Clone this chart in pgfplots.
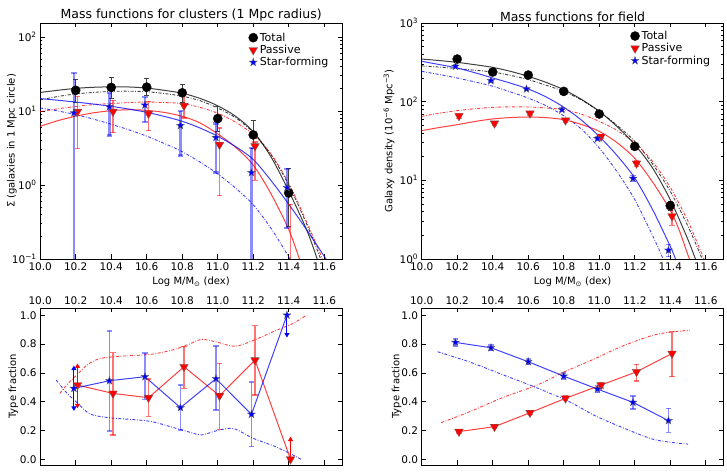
\documentclass[border=0pt]{standalone}
\usepackage{fontspec}
\setmainfont{DejaVu Sans}
\usepackage{pgfplots}
\usepackage{pgfplotstable}
\pgfplotsset{compat=1.18}
\usetikzlibrary{arrows.meta}

% filled five-pointed star
\pgfdeclareplotmark{fstar}{%
  \pgfpathmoveto{\pgfpointpolar{90}{\pgfplotmarksize}}%
  \pgfpathlineto{\pgfpointpolar{126}{0.4\pgfplotmarksize}}%
  \pgfpathlineto{\pgfpointpolar{162}{\pgfplotmarksize}}%
  \pgfpathlineto{\pgfpointpolar{198}{0.4\pgfplotmarksize}}%
  \pgfpathlineto{\pgfpointpolar{234}{\pgfplotmarksize}}%
  \pgfpathlineto{\pgfpointpolar{270}{0.4\pgfplotmarksize}}%
  \pgfpathlineto{\pgfpointpolar{306}{\pgfplotmarksize}}%
  \pgfpathlineto{\pgfpointpolar{342}{0.4\pgfplotmarksize}}%
  \pgfpathlineto{\pgfpointpolar{18}{\pgfplotmarksize}}%
  \pgfpathlineto{\pgfpointpolar{54}{0.4\pgfplotmarksize}}%
  \pgfpathclose
  \pgfusepathqfillstroke}

% ---------- clusters: measured points ----------
\pgfplotstableread{
x y ep em
10.20 19.0 8.0 6.0
10.40 20.8 8.0 6.0
10.60 21.0 6.3 5.0
10.80 17.6 5.6 4.5
11.00 7.9 3.7 2.6
11.20 4.75 2.7 1.6
11.40 0.78 0.91 0.50
}\clTot
\pgfplotstableread{
x y ep em
10.21 9.8 6.0 6.7
10.41 9.8 4.1 4.7
10.61 9.2 4.3 3.8
10.81 11.8 5.1 3.75
11.01 3.5 2.4 2.78
11.21 3.35 0.45 2.2
11.41 0.011 0.539 0.001
}\clPas
\pgfplotstableread{
x y ep em
10.19 9.4 23.0 9.39
10.39 11.4 6.1 6.75
10.59 12.0 3.3 4.9
10.79 6.35 3.75 3.85
10.99 4.38 2.42 2.91
11.19 1.47 1.71 1.46
11.39 0.92 0.71 0.66
}\clSF
% ---------- clusters: fitted curves ----------
\pgfplotstableread{
x y
10.00 17.8
10.10 19.05
10.20 20.2
10.30 20.9
10.40 21.2
10.50 21.1
10.60 20.4
10.70 19.0
10.80 17.4
10.90 14.8
11.00 11.75
11.10 8.5
11.20 5.25
11.30 2.4
11.40 0.83
11.50 0.25
11.56 0.1
11.60 0.047
}\clTotFit
\pgfplotstableread{
x y
10.00 14.1
10.10 15.7
10.20 17.0
10.30 17.8
10.40 18.4
10.50 18.5
10.60 18.2
10.70 17.2
10.80 15.85
10.90 13.8
11.00 10.96
11.10 8.13
11.20 5.13
11.30 2.57
11.40 1.0
11.50 0.30
11.58 0.1
11.62 0.052
}\clTotRef
\pgfplotstableread{
x y
10.00 6.22
10.10 7.41
10.20 8.51
10.30 9.44
10.40 10.1
10.50 10.4
10.60 10.2
10.70 9.55
10.80 8.47
10.90 6.9
11.00 4.9
11.10 3.24
11.20 1.86
11.30 0.76
11.40 0.25
11.46 0.1
11.50 0.05
}\clPasFit
\pgfplotstableread{
x y
10.00 9.77
10.10 10.7
10.20 11.5
10.30 12.2
10.40 12.6
10.50 13.0
10.60 13.2
10.70 13.0
10.80 12.6
10.90 11.2
11.00 9.33
11.10 7.08
11.20 4.79
11.30 2.63
11.40 1.05
11.50 0.32
11.59 0.1
11.62 0.063
}\clPasRef
\pgfplotstableread{
x y
10.00 14.7
10.10 13.96
10.20 13.2
10.30 12.4
10.40 11.56
10.50 10.6
10.60 9.6
10.70 8.43
10.80 7.26
10.90 5.89
11.00 4.56
11.10 3.31
11.20 2.21
11.30 1.15
11.40 0.55
11.50 0.25
11.61 0.1
11.65 0.072
}\clSFFit
\pgfplotstableread{
x y
10.00 10.96
10.10 10.0
10.20 8.91
10.30 7.76
10.40 6.61
10.50 5.56
10.60 4.57
10.70 3.63
10.80 2.82
10.90 2.04
11.00 1.41
11.10 0.91
11.20 0.54
11.30 0.26
11.40 0.107
11.43 0.079
}\clSFRef

% ---------- field: measured points ----------
\pgfplotstableread{
x y ep em
10.20 348 12 12
10.40 238 9 9
10.60 218 8 8
10.80 135 5 5
11.00 69.7 3 3
11.20 27.0 1.5 1.5
11.40 4.76 0.7 0.6
}\fdTot
\pgfplotstableread{
x y ep em
10.21 65.8 4 4
10.41 53.0 3.5 3.5
10.61 71.0 4 4
10.81 58.0 3 3
11.01 36.0 2 2
11.21 16.4 1.3 1.3
11.41 3.5 0.9 0.8
}\fdPas
\pgfplotstableread{
x y ep em
10.19 281 10 10
10.39 185 8 8
10.59 145 6 6
10.79 79 4 4
10.99 34 2 2
11.19 10.6 0.9 0.9
11.39 1.29 0.25 0.22
}\fdSF
% ---------- field: fitted curves ----------
\pgfplotstableread{
x y
10.00 348
10.10 333
10.20 316
10.30 295
10.40 273
10.50 243
10.60 210
10.70 176
10.80 142
10.90 107
11.00 75.3
11.10 48.4
11.20 28.4
11.30 14.4
11.40 5.68
11.50 1.76
11.55 0.89
}\fdTotFit
\pgfplotstableread{
x y
10.00 285
10.10 275
10.20 263
10.30 251
10.40 238
10.50 216
10.60 191
10.70 162
10.80 135
10.90 105
11.00 75.3
11.10 50.1
11.20 31.3
11.30 16.2
11.40 7.24
11.50 2.6
11.58 1.0
11.60 0.72
}\fdTotRef
\pgfplotstableread{
x y
10.00 42.8
10.10 47.0
10.20 51.0
10.30 56.0
10.40 60.3
10.50 62.8
10.60 63.8
10.70 62.7
10.80 59.0
10.90 51.3
11.00 42.0
11.10 30.2
11.20 19.05
11.30 9.55
11.40 4.17
11.45 2.34
11.50 1.12
11.53 0.75
}\fdPasFit
\pgfplotstableread{
x y
10.00 65.2
10.10 71.3
10.20 76.9
10.30 81.3
10.40 84.7
10.50 85.9
10.60 85.5
10.70 83.2
10.80 79.1
10.90 69.2
11.00 56.2
11.10 43.2
11.20 29.9
11.30 17.4
11.40 8.13
11.50 3.02
11.59 1.0
11.62 0.71
}\fdPasRef
\pgfplotstableread{
x y
10.00 326
10.10 296
10.20 268
10.30 233
10.40 200
10.50 172
10.60 145
10.70 115
10.80 85.1
10.90 58.2
11.00 36.2
11.10 20.7
11.20 10.7
11.30 4.27
11.40 1.45
11.43 1.0
11.45 0.76
}\fdSFFit
\pgfplotstableread{
x y
10.00 243
10.10 221
10.20 200
10.30 178
10.40 157
10.50 133
10.60 111
10.70 89
10.80 66
10.90 44.7
11.00 25.8
11.10 12.9
11.20 5.68
11.30 2.0
11.36 1.0
11.38 0.76
}\fdSFRef

% ---------- type fractions ----------
\pgfplotstableread{
x y
10.19 0.492
10.39 0.545
10.59 0.573
10.79 0.358
10.99 0.559
11.19 0.312
11.39 1.000
}\clFracSF
\pgfplotstableread{
x y ep em
10.39 0.545 0.346 0.349
10.59 0.573 0.166 0.157
10.79 0.358 0.157 0.155
10.99 0.559 0.226 0.217
11.19 0.312 0.226 0.224
}\clFracSFerr
\pgfplotstableread{
x y
10.21 0.515
10.41 0.457
10.61 0.427
10.81 0.642
11.01 0.441
11.21 0.688
11.41 0.000
}\clFracPas
\pgfplotstableread{
x y ep em
10.41 0.457 0.284 0.288
10.61 0.427 0.13 0.13
10.81 0.642 0.143 0.150
11.01 0.441 0.224 0.233
11.21 0.688 0.240 0.242
}\clFracPaserr
\pgfplotstableread{
x y
10.11 0.457
10.16 0.53
10.21 0.59
10.27 0.66
10.34 0.70
10.45 0.715
10.62 0.728
10.75 0.76
10.84 0.80
10.91 0.832
10.99 0.815
11.10 0.785
11.22 0.835
11.32 0.89
11.42 0.94
11.50 1.0
}\clFracPasRef
\pgfplotstableread{
x y
10.09 0.55
10.15 0.46
10.21 0.39
10.28 0.315
10.39 0.288
10.61 0.265
10.75 0.22
10.85 0.185
10.91 0.169
11.00 0.20
11.09 0.212
11.20 0.145
11.33 0.085
11.47 0.0
}\clFracSFRef
\pgfplotstableread{
x y ep em
10.19 0.811 0.025 0.025
10.39 0.774 0.02 0.02
10.60 0.677 0.02 0.02
10.80 0.577 0.02 0.02
10.99 0.487 0.025 0.025
11.19 0.395 0.045 0.045
11.39 0.268 0.085 0.081
}\fdFracSF
\pgfplotstableread{
x y ep em
10.21 0.192 0.01 0.01
10.41 0.226 0.012 0.012
10.61 0.323 0.012 0.012
10.81 0.423 0.015 0.015
11.01 0.515 0.02 0.02
11.21 0.607 0.053 0.064
11.41 0.734 0.151 0.161
}\fdFracPas
\pgfplotstableread{
x y
10.11 0.254
10.27 0.33
10.46 0.43
10.65 0.515
10.80 0.605
10.97 0.695
11.12 0.78
11.30 0.86
11.42 0.885
11.51 0.895
}\fdFracPasRef
\pgfplotstableread{
x y
10.09 0.746
10.27 0.675
10.46 0.585
10.65 0.495
10.83 0.40
10.98 0.30
11.15 0.21
11.30 0.14
11.42 0.115
11.50 0.105
}\fdFracSFRef

\pgfplotsset{
  panel/.style={
    scale only axis, width=301.8pt,
    xmin=10, xmax=11.7,
    xtick={10,10.2,10.4,10.6,10.8,11,11.2,11.4,11.6},
    xticklabel style={/pgf/number format/.cd, fixed, fixed zerofill, precision=1},
    /pgf/number format/assume math mode=true,
    tick align=inside,
    major tick length=4.5pt, minor tick length=2.2pt,
    tick style={black, line width=0.6pt},
    axis line style={black, line width=0.8pt},
    tick label style={font=\fontsize{10.5}{12}\selectfont},
    label style={font=\fontsize{10}{12}\selectfont},
    title style={font=\fontsize{12.5}{14}\selectfont, yshift=-8pt},
    legend style={draw=none, fill=none, font=\fontsize{11}{12}\selectfont,
      row sep=-1.5pt, inner sep=0pt, cells={anchor=west}},
    legend image code/.code={\draw[#1] plot coordinates {(0pt,0pt)};},
  },
  fracpanel/.style={panel, height=157pt, ymin=-0.04, ymax=1.05,
    xticklabel pos=upper,
    ytick={0,0.2,0.4,0.6,0.8,1.0},
    yticklabel style={/pgf/number format/.cd, fixed, fixed zerofill, precision=1},
    ylabel={Type fraction}},
  ylabelat/.style={ylabel style={at={(rel axis cs:#1,0.5)}, anchor=center}},
  fit/.style={smooth, line width=1pt, opacity=0.75},
  ref/.style={smooth, line width=0.9pt, opacity=0.75,
    dash pattern=on 3pt off 1.6pt on 0.8pt off 1.6pt},
  totmark/.style={only marks, mark=*, mark size=4.6pt,
    mark options={fill=black, draw=black, line width=0.3pt}},
  pasmark/.style={only marks, mark=triangle*, mark size=5pt,
    mark options={rotate=180, fill=red, draw=black!60, line width=0.3pt}},
  sfmark/.style={only marks, mark=fstar, mark size=4.2pt,
    mark options={fill=blue, draw=black!60, line width=0.3pt}},
  ebar/.style={error bars/.cd, y dir=both, y explicit,
    error bar style={#1},
    error mark options={rotate=90, mark size=2.6pt, #1}},
}

\begin{document}
\begin{tikzpicture}
\path[use as bounding box] (0,0) rectangle (727pt,473pt);

% ================= clusters =================
\begin{axis}[panel, at={(40.2pt,214pt)}, anchor=south west, height=236pt,
  ymode=log, ymin=0.1, ymax=154.5,
  ytick={0.1,1,10,100},
  yticklabels={10\textsuperscript{−1},10\textsuperscript{0},10\textsuperscript{1},10\textsuperscript{2}},
  title={Mass functions for clusters (1 Mpc radius)},
  xlabel={Log M/M\textsubscript{⊙} (dex)},
  ylabel={Σ (galaxies in 1 Mpc circle)}, ylabelat=-0.094,
  legend style={at={(rel axis cs:0.69,0.968)}, anchor=north west}]
\addplot[ref, black, forget plot] table {\clTotRef};
\addplot[ref, red, forget plot] table {\clPasRef};
\addplot[ref, blue, forget plot] table {\clSFRef};
\addplot[fit, black, forget plot] table {\clTotFit};
\addplot[fit, red, forget plot] table {\clPasFit};
\addplot[fit, blue, forget plot] table {\clSFFit};
\addplot[totmark, forget plot, ebar={black!75, line width=0.8pt}]
  table[x=x, y=y, y error plus=ep, y error minus=em] {\clTot};
\addplot[pasmark, forget plot, ebar={red, opacity=0.55, line width=1.4pt}]
  table[x=x, y=y, y error plus=ep, y error minus=em] {\clPas};
\addplot[sfmark, forget plot, ebar={blue, opacity=0.45, line width=2.3pt}]
  table[x=x, y=y, y error plus=ep, y error minus=em] {\clSF};
\addlegendimage{totmark}
\addlegendentry{Total}
\addlegendimage{pasmark}
\addlegendentry{Passive}
\addlegendimage{sfmark}
\addlegendentry{Star-forming}
\end{axis}

% ================= field =================
\begin{axis}[panel, at={(421.7pt,214pt)}, anchor=south west, height=236pt,
  ymode=log, ymin=1, ymax=1000,
  ytick={1,10,100,1000},
  yticklabels={10\textsuperscript{0},10\textsuperscript{1},10\textsuperscript{2},10\textsuperscript{3}},
  title={Mass functions for field},
  xlabel={Log M/M\textsubscript{⊙} (dex)},
  ylabel={Galaxy density (10\textsuperscript{−6} Mpc\textsuperscript{−3})}, ylabelat=-0.108,
  legend style={at={(rel axis cs:0.691,0.975)}, anchor=north west}]
\addplot[ref, black, forget plot] table {\fdTotRef};
\addplot[ref, red, forget plot] table {\fdPasRef};
\addplot[ref, blue, forget plot] table {\fdSFRef};
\addplot[fit, black, forget plot] table {\fdTotFit};
\addplot[fit, red, forget plot] table {\fdPasFit};
\addplot[fit, blue, forget plot] table {\fdSFFit};
\addplot[totmark, forget plot, ebar={black!75, line width=0.8pt}]
  table[x=x, y=y, y error plus=ep, y error minus=em] {\fdTot};
\addplot[pasmark, forget plot, ebar={red, opacity=0.55, line width=1.1pt}]
  table[x=x, y=y, y error plus=ep, y error minus=em] {\fdPas};
\addplot[sfmark, forget plot, ebar={blue, opacity=0.45, line width=1.4pt}]
  table[x=x, y=y, y error plus=ep, y error minus=em] {\fdSF};
\addlegendimage{totmark}
\addlegendentry{Total}
\addlegendimage{pasmark}
\addlegendentry{Passive}
\addlegendimage{sfmark}
\addlegendentry{Star-forming}
\end{axis}

% ================= cluster type fractions =================
\begin{axis}[fracpanel, at={(40.2pt,8pt)}, anchor=south west, ylabelat=-0.089]
\addplot[ref, red] table {\clFracPasRef};
\addplot[ref, blue] table {\clFracSFRef};
\addplot[red, line width=1pt, opacity=0.75] table {\clFracPas};
\addplot[blue, line width=1pt, opacity=0.75] table {\clFracSF};
% limits drawn as arrows
\addplot[red, line width=1pt, arrows={Triangle[width=5pt,length=4.5pt]-Triangle[width=5pt,length=4.5pt]}]
  coordinates {(10.21,0.353) (10.21,0.665)};
\addplot[blue, line width=1pt, arrows={Triangle[width=5pt,length=4.5pt]-Triangle[width=5pt,length=4.5pt]}]
  coordinates {(10.19,0.335) (10.19,0.650)};
\addplot[blue, line width=1pt, arrows={-Triangle[width=5pt,length=4.5pt]}]
  coordinates {(11.39,1.0) (11.39,0.845)};
\addplot[red, line width=1pt, arrows={-Triangle[width=5pt,length=4.5pt]}]
  coordinates {(11.41,0.0) (11.41,0.157)};
\addplot[pasmark, ebar={red, opacity=0.55, line width=1.3pt}]
  table[x=x, y=y, y error plus=ep, y error minus=em] {\clFracPaserr};
\addplot[pasmark] coordinates {(10.21,0.515) (11.41,0.0)};
\addplot[sfmark, ebar={blue, opacity=0.45, line width=1.6pt}]
  table[x=x, y=y, y error plus=ep, y error minus=em] {\clFracSFerr};
\addplot[sfmark] coordinates {(10.19,0.492) (11.39,1.0)};
\end{axis}

% ================= field type fractions =================
\begin{axis}[fracpanel, at={(421.7pt,8pt)}, anchor=south west, ylabelat=-0.083]
\addplot[ref, red] table {\fdFracPasRef};
\addplot[ref, blue] table {\fdFracSFRef};
\addplot[red, line width=1pt, opacity=0.75] table[x=x, y=y] {\fdFracPas};
\addplot[blue, line width=1pt, opacity=0.75] table[x=x, y=y] {\fdFracSF};
\addplot[pasmark, ebar={red, opacity=0.55, line width=1.3pt}]
  table[x=x, y=y, y error plus=ep, y error minus=em] {\fdFracPas};
\addplot[sfmark, ebar={blue, opacity=0.45, line width=1.6pt}]
  table[x=x, y=y, y error plus=ep, y error minus=em] {\fdFracSF};
\end{axis}
\end{tikzpicture}
\end{document}
